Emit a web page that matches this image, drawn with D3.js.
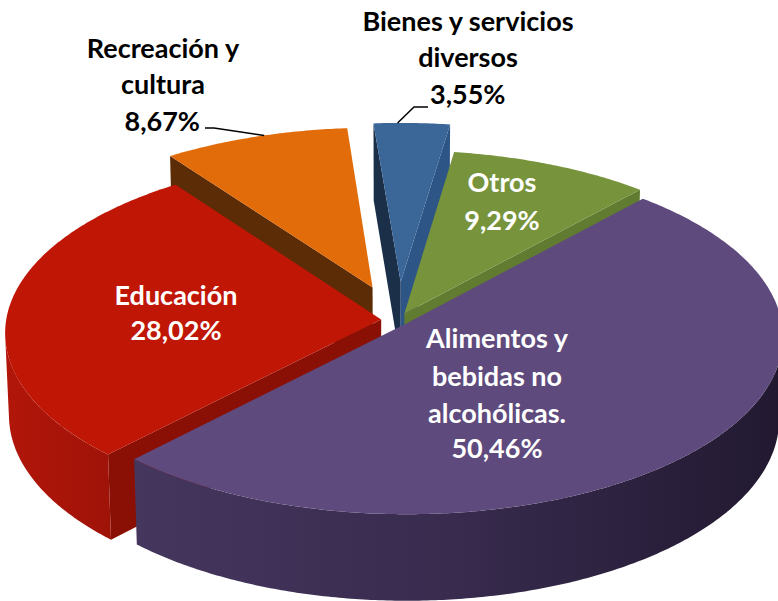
<!DOCTYPE html>
<html>
<head>
<meta charset="utf-8">
<script src="https://cdn.jsdelivr.net/npm/d3@7"></script>
<style>
body { margin: 0; background: #fff; }
svg text { font-family: Lato, "Open Sans", sans-serif; font-weight: bold; font-size: 27px; }
</style>
</head>
<body>
<svg id="chart" width="778" height="601"></svg>
<script>
// data
var categories = ['Bienes y servicios diversos', 'Otros', 'Alimentos y bebidas no alcohólicas.', 'Educación', 'Recreación y cultura'];
var values = [3.55, 9.29, 50.46, 28.02, 8.67];
var valueLabels = ['3,55%', '9,29%', '50,46%', '28,02%', '8,67%'];
var nameLines = [['Bienes y servicios', 'diversos'], ['Otros'], ['Alimentos y', 'bebidas no', 'alcohólicas.'], ['Educación'], ['Recreación y', 'cultura']];

// style
var topColor = ['#3b6698', '#77933c', '#5e4a7c', '#c01606', '#e36c0a'];
var startFace = ['#1b2f49', '#5d7530', '#3a2d50', '#8a0f05', '#5c2c06'];
var endFace = ['#2d5585', '#617b31', '#3a2d50', '#8a0f05', '#7a3a06'];
var explode = [0.22, 0.04, 0.03, 0.045, 0.2];
var textColor = ['#000', '#fff', '#fff', '#fff', '#000'];
// label placement
var labelPos = [
    { x: 468, ys: [31, 67], vx: 430, vy: 104, anchor: 'start' },
    { x: 502, ys: [192], vx: 502, vy: 230, anchor: 'middle' },
    { x: 497, ys: [348, 386, 423], vx: 497, vy: 458, anchor: 'middle' },
    { x: 176, ys: [305], vx: 176, vy: 340, anchor: 'middle' },
    { x: 163, ys: [58, 94], vx: 200, vy: 131, anchor: 'end' }
];

var svg = d3.select('#chart');

// simple perspective camera
var T = 28 * Math.PI / 180, D = 12, F = 4500, H = 0.25, CX = 398, CY = 320;
var cosT = Math.cos(T), sinT = Math.sin(T);

function proj(X, Y, W) {
    var z = D - W * cosT - Y * sinT;
    var yv = Y * cosT - W * sinT;
    return [CX + F * X / z, CY - F * yv / z];
}

var start = -4.5 * Math.PI / 180;
var pie = d3.pie().sort(null).value(function(d) { return d; }).startAngle(start).endAngle(start + 2 * Math.PI);
var arcs = pie(values);
var line = d3.line();

arcs.forEach(function(s, i) {
    var m = (s.startAngle + s.endAngle) / 2;
    s.i = i;
    s.ox = explode[i] * Math.sin(m);
    s.oz = -explode[i] * Math.cos(m);
    s.z = D - (s.oz - 0.5 * Math.cos(m)) * cosT;
});

function rimPt(s, a, Y) {
    return proj(s.ox + Math.sin(a), Y, s.oz - Math.cos(a));
}

function rimPts(s, a0, a1, Y) {
    var n = Math.max(2, Math.ceil(Math.abs(a1 - a0) / 0.01));
    return d3.range(n + 1).map(function(k) {
        return rimPt(s, a0 + (a1 - a0) * k / n, Y);
    });
}

function faceVisible(s, a, nrm) {
    var px = s.ox + 0.5 * Math.sin(a), pz = s.oz - 0.5 * Math.cos(a);
    return Math.sin(nrm) * (0 - px) + (-Math.cos(nrm)) * (D * cosT - pz) > 0;
}

function radialFace(s, a) {
    var pts = [proj(s.ox, 0, s.oz), rimPt(s, a, 0), rimPt(s, a, -H), proj(s.ox, -H, s.oz)];
    return line(pts) + 'Z';
}

// gradients for the curved sides
var defs = svg.append('defs');
var g1 = defs.append('linearGradient').attr('id', 'sideAli').attr('gradientUnits', 'userSpaceOnUse')
    .attr('x1', 130).attr('y1', 0).attr('x2', 780).attr('y2', 0);
g1.append('stop').attr('offset', 0).attr('stop-color', '#45365e');
g1.append('stop').attr('offset', 0.5).attr('stop-color', '#382b4e');
g1.append('stop').attr('offset', 1).attr('stop-color', '#221931');
var g2 = defs.append('linearGradient').attr('id', 'sideEdu').attr('gradientUnits', 'userSpaceOnUse')
    .attr('x1', 0).attr('y1', 0).attr('x2', 140).attr('y2', 0);
g2.append('stop').attr('offset', 0).attr('stop-color', '#b3160a');
g2.append('stop').attr('offset', 1).attr('stop-color', '#9a1207');
var sideFill = ['#2b5282', '#5d7530', 'url(#sideAli)', 'url(#sideEdu)', '#8a4207'];

var aLo = Math.acos(-1 / (D * cosT)), aHi = 2 * Math.PI - aLo;

var order = arcs.slice().sort(function(a, b) { return b.z - a.z; });

order.forEach(function(s) {
    var g = svg.append('g').attr('class', 'slice');
    var i = s.i;
    // radial cut faces
    if (faceVisible(s, s.startAngle, s.startAngle - Math.PI / 2)) {
        g.append('path').attr('d', radialFace(s, s.startAngle)).attr('fill', startFace[i]);
    }
    if (faceVisible(s, s.endAngle, s.endAngle + Math.PI / 2)) {
        g.append('path').attr('d', radialFace(s, s.endAngle)).attr('fill', endFace[i]);
    }
    // curved outer side
    var b0 = Math.max(s.startAngle, aLo), b1 = Math.min(s.endAngle, aHi);
    if (b1 > b0) {
        var pts = rimPts(s, b0, b1, 0).concat(rimPts(s, b1, b0, -H));
        g.append('path').attr('d', line(pts) + 'Z').attr('fill', sideFill[i]);
    }
    // top
    var top = [proj(s.ox, 0, s.oz)].concat(rimPts(s, s.startAngle, s.endAngle, 0));
    g.append('path').attr('d', line(top) + 'Z').attr('fill', topColor[i]);
});

// leader lines for outside labels
var bienesRim = rimPt(arcs[0], arcs[0].startAngle + 0.07, 0);
svg.append('path').attr('d', line([bienesRim, [414, 107], [428, 107]]))
    .attr('fill', 'none').attr('stroke', '#000').attr('stroke-width', 1.5);
var recRim = rimPt(arcs[4], arcs[4].startAngle + 0.3, 0);
svg.append('path').attr('d', line([[205, 128], [214, 128], recRim]))
    .attr('fill', 'none').attr('stroke', '#000').attr('stroke-width', 1.5);

// labels
labelPos.forEach(function(p, i) {
    nameLines[i].forEach(function(t, k) {
        svg.append('text').attr('x', p.x).attr('y', p.ys[k]).attr('text-anchor', 'middle')
            .attr('fill', textColor[i]).text(t);
    });
    svg.append('text').attr('x', p.vx).attr('y', p.vy).attr('text-anchor', p.anchor)
        .attr('fill', textColor[i]).text(valueLabels[i]);
});
</script>
</body>
</html>
